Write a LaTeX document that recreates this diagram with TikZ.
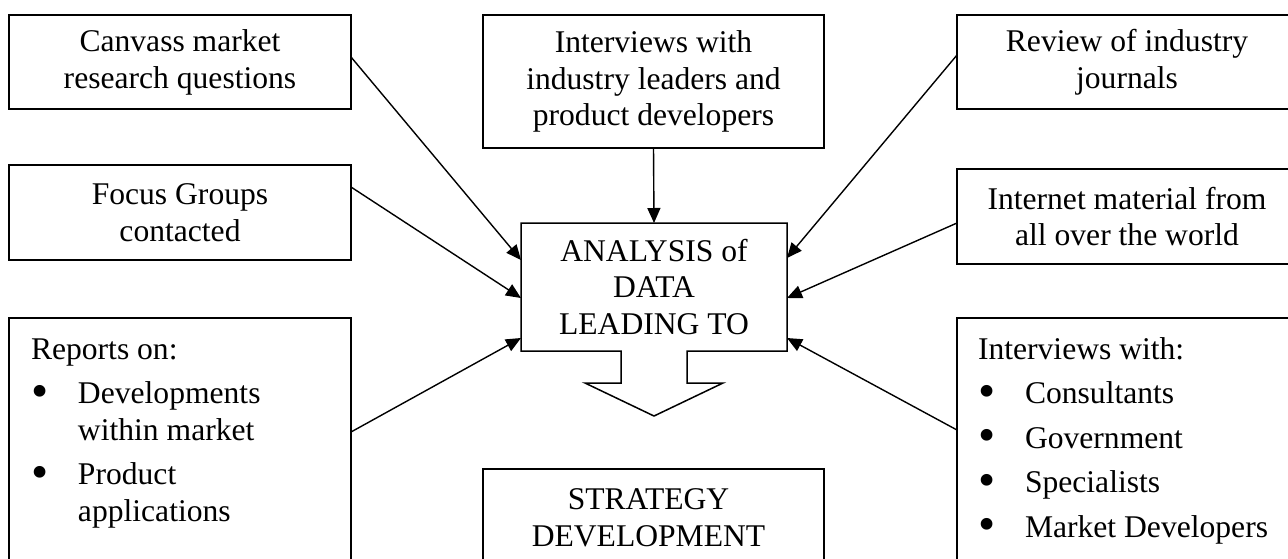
\documentclass[tikz,border=0pt]{standalone}
\usepackage{fontspec}
\setmainfont{Liberation Serif}
\usetikzlibrary{arrows.meta,calc}
\newcommand\bul{\makebox[23.5pt][l]{\raisebox{-1.8pt}{\scalebox{1.55}{\textbullet}}}}
\begin{document}
\begin{tikzpicture}[x=0.5pt,y=-0.5pt,
  every node/.style={font=\fontsize{15.8}{18.4}\selectfont, outer sep=0pt},
  bx/.style n args={2}{draw, line width=0.75pt, inner sep=0pt, align=center,
     minimum width=#1*0.5pt, minimum height=#2*0.5pt},
  plain/.style n args={2}{inner sep=0pt, align=center,
     minimum width=#1*0.5pt, minimum height=#2*0.5pt},
  listbox/.style={draw, line width=0.75pt, inner sep=0pt, anchor=north west},
  arr/.style={line width=0.7pt, -{Triangle[length=7.5pt,width=6.5pt]}},
  outline/.style={line width=0.75pt, line join=miter}]
\useasboundingbox (0,0) rectangle (1288,558);
\clip (0,0) rectangle (1288,558);
\fill[white] (0,0) rectangle (1288,558);

% boxes
\node[bx={342}{94}] (can) at (180,62) {Canvass market\\research questions};
\node[bx={342}{95}] (foc) at (180,212.5) {Focus Groups\\contacted};
\node[bx={341}{133}] (int) at (653.5,81.5) {Interviews with\\industry leaders and\\product developers};
\node[bx={340}{94}] (rev) at (1127,62) {Review of industry\\journals};
\node[bx={340}{95}] (inet) at (1127,216.5) {Internet material from\\all over the world};
\node[plain={266}{128}] (ana) at (654,287) {ANALYSIS of\\DATA\\LEADING TO};
\node[bx={341}{97}] (str) at (653.5,517.5) {STRATEGY\hspace*{5pt}\\DEVELOPMENT\hspace*{5pt}};

\node[listbox] (rep) at (9,318) {\parbox[c][130pt][t]{171pt}{\raggedright\leftskip=11pt
  \rule{0pt}{20.5pt}Reports on:\\[3.85pt]
  \bul Developments\\
  \hspace*{23.5pt}within market\\[3.85pt]
  \bul Product\\
  \hspace*{23.5pt}applications}};
\node[listbox] (iw) at (957,318) {\parbox[c][130pt][t]{170pt}{\raggedright\leftskip=10.5pt
  \rule{0pt}{20.5pt}Interviews with:\\[3.85pt]
  \bul Consultants\\[3.85pt]
  \bul Government\\[3.85pt]
  \bul Specialists\\[3.85pt]
  \bul Market Developers}};

% callout outline of the analysis box
\draw[outline] ($(ana.south)+(-33,0)$) -- (ana.south west) -- (ana.north west)
  -- (ana.north east) -- (ana.south east) -- ($(ana.south)+(33,0)$)
  -- ($(ana.south)+(33,32)$) -- ($(ana.south)+(69,32)$) -- ($(ana.south)+(0,65)$)
  -- ($(ana.south)+(-69,32)$) -- ($(ana.south)+(-33,32)$) -- cycle;

% connectors
\draw[arr] ($(can.east)+(0,-5)$) -- ($(ana.west)+(0,-27)$);
\draw[arr] ($(foc.east)+(0,-25.5)$) -- ($(ana.west)+(0,11)$);
\draw[arr] ($(rep.north east)+(0,114)$) -- ($(ana.west)+(0,51)$);
\draw[arr] (int.south) -- (ana.north);
\draw[arr] ($(rev.west)+(0,-7)$) -- ($(ana.east)+(0,-29)$);
\draw[arr] ($(inet.west)+(0,6.5)$) -- ($(ana.east)+(0,11)$);
\draw[arr] ($(iw.north west)+(0,112)$) -- ($(ana.east)+(0,51)$);
\end{tikzpicture}
\end{document}
